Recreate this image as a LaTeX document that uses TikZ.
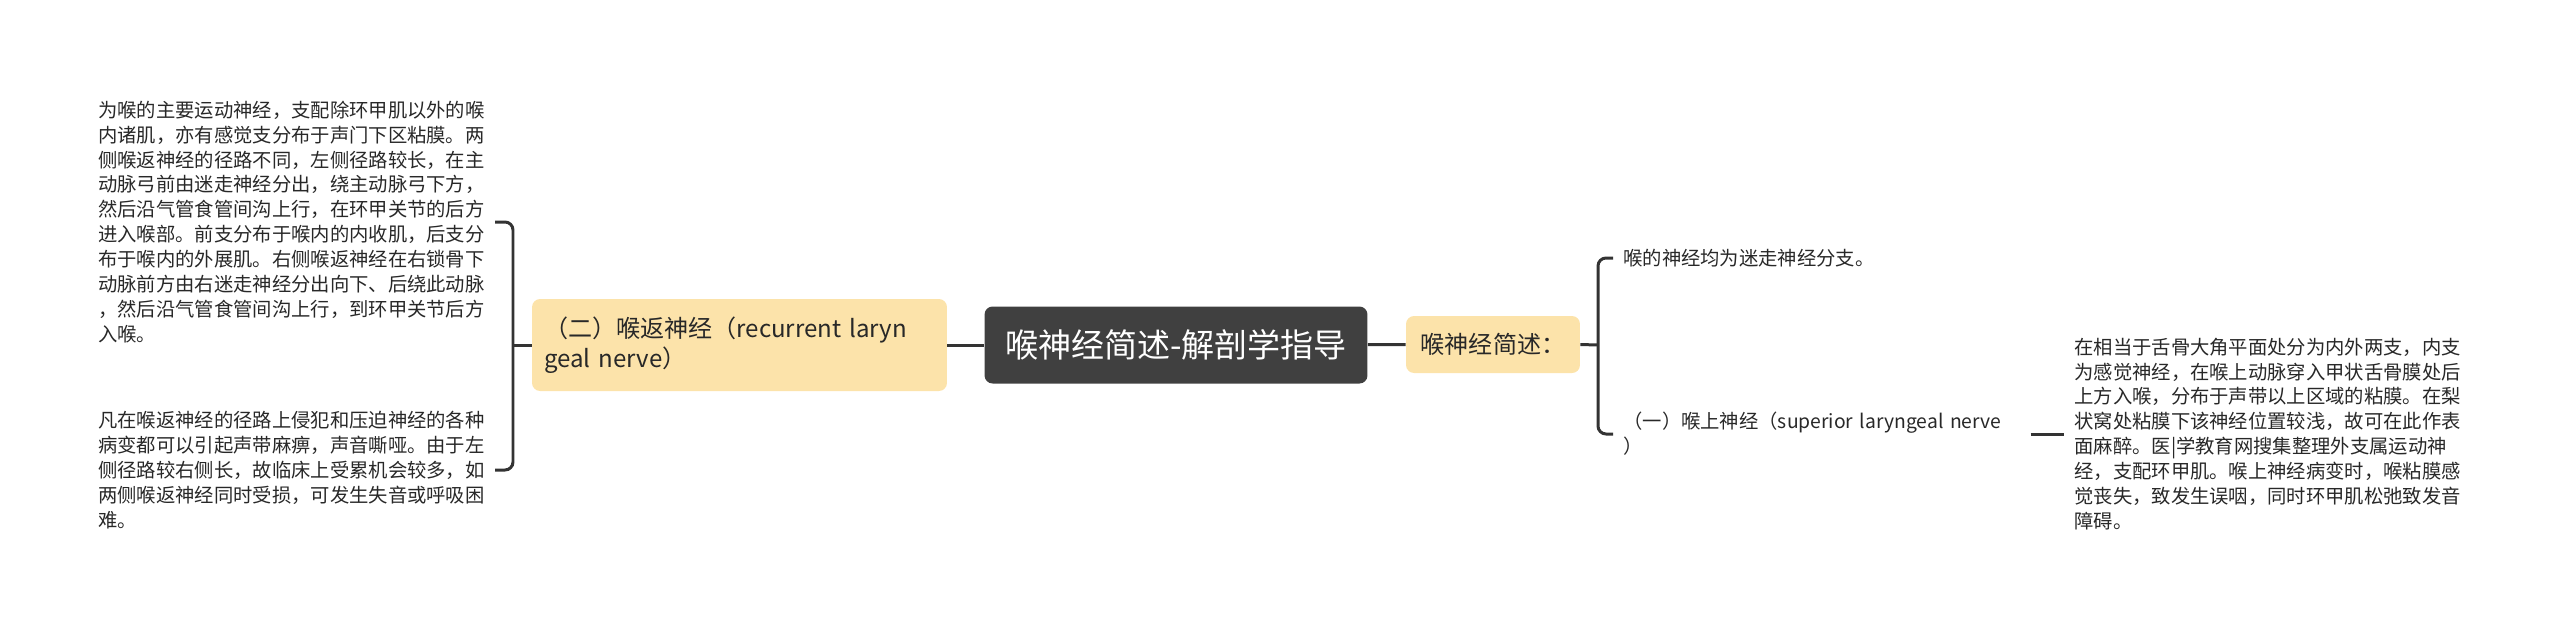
\documentclass[tikz,border=0pt]{standalone}
\usepackage{fontspec}
\setmainfont{Noto Sans CJK SC}
\usepackage{tikz}
\usetikzlibrary{shapes.geometric}
\definecolor{titleGray}{RGB}{64,64,64}
\definecolor{paleOrange}{RGB}{252,227,170}
\definecolor{lineGray}{RGB}{51,51,51}
\definecolor{textGray}{RGB}{40,40,40}
\tikzstyle{titleNode} = [rectangle, rounded corners=0.16cm, minimum width=7.66cm, minimum height=1.54cm, text centered, fill=titleGray, text=white, font=\fontsize{18.8pt}{22pt}\selectfont]
\tikzstyle{branchNode} = [rectangle, rounded corners=0.16cm, inner xsep=0.24cm, align=left, fill=paleOrange, text=textGray, font=\fontsize{13.7pt}{17pt}\selectfont]
\tikzstyle{leafNode} = [inner xsep=0.2cm, inner ysep=0.1cm, align=left, text=textGray, font=\fontsize{11pt}{14.2pt}\selectfont]
\tikzstyle{link} = [draw=lineGray, line width=1.7pt, rounded corners=0.16cm]

\begin{document}
\begin{tikzpicture}[x=0.02cm, y=-0.02cm]
    \useasboundingbox (0,0) rectangle (2560,627);
    \node (title) [titleNode] at (1176,345) {喉神经简述-解剖学指导};
    % recurrent laryngeal nerve
    \node (recurrent) [branchNode, text width=7.82cm, minimum height=1.84cm] at (739.5,345) {（二）喉返神经（recurrent laryn\\geal nerve）};
    \node (recurrentA) [leafNode, anchor=east] at (495,222) {为喉的主要运动神经，支配除环甲肌以外的喉\\内诸肌，亦有感觉支分布于声门下区粘膜。两\\侧喉返神经的径路不同，左侧径路较长，在主\\动脉弓前由迷走神经分出，绕主动脉弓下方，\\然后沿气管食管间沟上行，在环甲关节的后方\\进入喉部。前支分布于喉内的内收肌，后支分\\布于喉内的外展肌。右侧喉返神经在右锁骨下\\动脉前方由右迷走神经分出向下、后绕此动脉\\，然后沿气管食管间沟上行，到环甲关节后方\\入喉。};
    \node (recurrentB) [leafNode, anchor=east] at (495,470) {凡在喉返神经的径路上侵犯和压迫神经的各种\\病变都可以引起声带麻痹，声音嘶哑。由于左\\侧径路较右侧长，故临床上受累机会较多，如\\两侧喉返神经同时受损，可发生失音或呼吸困\\难。};
    % summary
    \node (summary) [branchNode, minimum width=3.48cm, minimum height=1.14cm, align=center] at (1493,344.5) {喉神经简述：};
    \node (vagus) [leafNode, anchor=west] at (1613,258) {喉的神经均为迷走神经分支。};
    % superior laryngeal nerve
    \node (superior) [leafNode, anchor=west, text width=7.94cm] at (1613,434) {（一）喉上神经（superior laryngeal nerve\\）};
    \node (superiorDetail) [leafNode, anchor=west] at (2064,434) {在相当于舌骨大角平面处分为内外两支，内支\\为感觉神经，在喉上动脉穿入甲状舌骨膜处后\\上方入喉，分布于声带以上区域的粘膜。在梨\\状窝处粘膜下该神经位置较浅，故可在此作表\\面麻醉。医|学教育网搜集整理外支属运动神\\经，支配环甲肌。喉上神经病变时，喉粘膜感\\觉丧失，致发生误咽，同时环甲肌松弛致发音\\障碍。};
    \coordinate (leftFork) at (513,345);
    \coordinate (rightFork) at (1598,345);

    \draw [link] (recurrent) -- (title);
    \draw [link] (title) -- (summary);
    %
    \draw [link] (recurrent.west) -- (leftFork);
    \draw [link] (recurrentA.east) -| (leftFork) |- (recurrentB.east);
    %
    \draw [link] (summary.east) -- (rightFork);
    \draw [link] (vagus.west) -| (rightFork) |- (superior.west);
    \draw [link] (superior.east) -- (superiorDetail.west);

\end{tikzpicture}
\end{document}
